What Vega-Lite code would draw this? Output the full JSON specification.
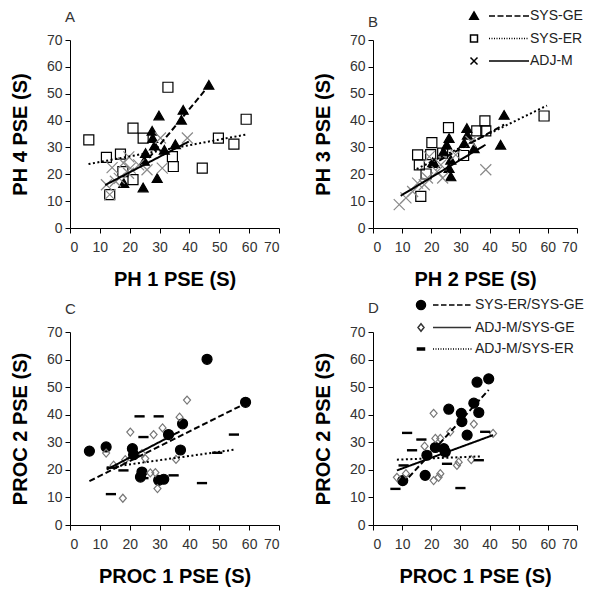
{
"$schema":"https://vega.github.io/schema/vega-lite/v6.json",
"padding":{"left":10,"top":9,"right":5,"bottom":3},
"config":{"view":{"stroke":null},"font":"Liberation Sans",
"axis":{"grid":false,"domainColor":"black","tickColor":"black","tickSize":5,"labelFont":"Liberation Sans","labelFontSize":14,"labelColor":"#333","labelPadding":7,"titleFont":"Liberation Sans","titleFontSize":20,"titleFontWeight":"bold","titleColor":"black"},
"axisX":{"titlePadding":15,"labelPadding":7},"axisY":{"titlePadding":16,"labelPadding":3},
"legend":{"title":null,"symbolSize":100,"symbolStrokeWidth":1.5,"labelFont":"Liberation Sans","labelFontSize":14,"labelColor":"#222"},
"title":{"anchor":"start","frame":"group","font":"Liberation Sans","fontSize":15,"fontWeight":"normal","color":"#333","dx":-5,"offset":8}},
"datasets":{
"pts":[
{"p":"A","g":"SYS-GE","x":46.5,"y":53.3},{"p":"A","g":"SYS-GE","x":37.9,"y":44},{"p":"A","g":"SYS-GE","x":37.3,"y":40.3},{"p":"A","g":"SYS-GE","x":29.8,"y":41.9},{"p":"A","g":"SYS-GE","x":27.5,"y":36.2},{"p":"A","g":"SYS-GE","x":27.7,"y":33.5},{"p":"A","g":"SYS-GE","x":28.3,"y":30.7},{"p":"A","g":"SYS-GE","x":31.6,"y":29.1},{"p":"A","g":"SYS-GE","x":35.3,"y":31.2},{"p":"A","g":"SYS-GE","x":25.3,"y":27.9},{"p":"A","g":"SYS-GE","x":24.9,"y":25},{"p":"A","g":"SYS-GE","x":18,"y":16.7},{"p":"A","g":"SYS-GE","x":24.5,"y":15.1},{"p":"A","g":"SYS-GE","x":29.2,"y":18.6},
{"p":"A","g":"SYS-ER","x":6.3,"y":32.8},{"p":"A","g":"SYS-ER","x":12.2,"y":26.3},{"p":"A","g":"SYS-ER","x":16.9,"y":27.5},{"p":"A","g":"SYS-ER","x":21.1,"y":37.2},{"p":"A","g":"SYS-ER","x":24.5,"y":33.5},{"p":"A","g":"SYS-ER","x":32.8,"y":52.4},{"p":"A","g":"SYS-ER","x":34.3,"y":26.6},{"p":"A","g":"SYS-ER","x":34.6,"y":22.9},{"p":"A","g":"SYS-ER","x":44.3,"y":22.3},{"p":"A","g":"SYS-ER","x":21.1,"y":18},{"p":"A","g":"SYS-ER","x":17.7,"y":21},{"p":"A","g":"SYS-ER","x":13.3,"y":12.4},{"p":"A","g":"SYS-ER","x":49.7,"y":33.5},{"p":"A","g":"SYS-ER","x":54.9,"y":31.2},{"p":"A","g":"SYS-ER","x":59,"y":40.5},
{"p":"A","g":"ADJ-M","x":12.2,"y":16.1},{"p":"A","g":"ADJ-M","x":13.3,"y":12.4},{"p":"A","g":"ADJ-M","x":14.1,"y":22.5},{"p":"A","g":"ADJ-M","x":15.2,"y":17.4},{"p":"A","g":"ADJ-M","x":17.9,"y":24.2},{"p":"A","g":"ADJ-M","x":19.6,"y":20.4},{"p":"A","g":"ADJ-M","x":19.7,"y":26.5},{"p":"A","g":"ADJ-M","x":20.2,"y":22.3},{"p":"A","g":"ADJ-M","x":23,"y":23.5},{"p":"A","g":"ADJ-M","x":25.8,"y":21.7},{"p":"A","g":"ADJ-M","x":30.9,"y":22.3},{"p":"A","g":"ADJ-M","x":30.3,"y":33.5},{"p":"A","g":"ADJ-M","x":39.3,"y":33.5},{"p":"A","g":"ADJ-M","x":16.5,"y":18.5},
{"p":"B","g":"SYS-GE","x":45,"y":42.1},{"p":"B","g":"SYS-GE","x":43.8,"y":31},{"p":"B","g":"SYS-GE","x":32.2,"y":37.2},{"p":"B","g":"SYS-GE","x":32.4,"y":34.7},{"p":"B","g":"SYS-GE","x":31.3,"y":31.6},{"p":"B","g":"SYS-GE","x":26.1,"y":33.5},{"p":"B","g":"SYS-GE","x":25.3,"y":31},{"p":"B","g":"SYS-GE","x":24.2,"y":28.5},{"p":"B","g":"SYS-GE","x":21,"y":24.2},{"p":"B","g":"SYS-GE","x":26.7,"y":25.4},{"p":"B","g":"SYS-GE","x":26.1,"y":22.3},{"p":"B","g":"SYS-GE","x":26.7,"y":19.2},{"p":"B","g":"SYS-GE","x":34.7,"y":29.7},{"p":"B","g":"SYS-GE","x":20.5,"y":24.5},
{"p":"B","g":"SYS-ER","x":15.3,"y":27.2},{"p":"B","g":"SYS-ER","x":15.9,"y":23.5},{"p":"B","g":"SYS-ER","x":16.4,"y":11.8},{"p":"B","g":"SYS-ER","x":20.2,"y":31.8},{"p":"B","g":"SYS-ER","x":25.9,"y":37.4},{"p":"B","g":"SYS-ER","x":23.9,"y":27.9},{"p":"B","g":"SYS-ER","x":18.2,"y":20.1},{"p":"B","g":"SYS-ER","x":35.6,"y":36.2},{"p":"B","g":"SYS-ER","x":38.4,"y":39.9},{"p":"B","g":"SYS-ER","x":38.7,"y":36.2},{"p":"B","g":"SYS-ER","x":58.7,"y":41.7},{"p":"B","g":"SYS-ER","x":31.1,"y":27},{"p":"B","g":"SYS-ER","x":19.8,"y":27.3},
{"p":"B","g":"ADJ-M","x":9,"y":8.7},{"p":"B","g":"ADJ-M","x":11.3,"y":11.2},{"p":"B","g":"ADJ-M","x":13.6,"y":13.6},{"p":"B","g":"ADJ-M","x":15.3,"y":16.7},{"p":"B","g":"ADJ-M","x":17.6,"y":16.1},{"p":"B","g":"ADJ-M","x":18.7,"y":18.6},{"p":"B","g":"ADJ-M","x":23.9,"y":18.6},{"p":"B","g":"ADJ-M","x":23.3,"y":23.5},{"p":"B","g":"ADJ-M","x":19.3,"y":26.6},{"p":"B","g":"ADJ-M","x":38.7,"y":21.7},{"p":"B","g":"ADJ-M","x":33.6,"y":32.2},{"p":"B","g":"ADJ-M","x":28.4,"y":27.2},{"p":"B","g":"ADJ-M","x":22,"y":21},
{"p":"C","g":"SYS-ER/SYS-GE","x":6.5,"y":26.8},{"p":"C","g":"SYS-ER/SYS-GE","x":12.1,"y":28.3},{"p":"C","g":"SYS-ER/SYS-GE","x":20.9,"y":27.7},{"p":"C","g":"SYS-ER/SYS-GE","x":21.3,"y":25.5},{"p":"C","g":"SYS-ER/SYS-GE","x":24.1,"y":19.2},{"p":"C","g":"SYS-ER/SYS-GE","x":23.6,"y":17.4},{"p":"C","g":"SYS-ER/SYS-GE","x":29.7,"y":16.2},{"p":"C","g":"SYS-ER/SYS-GE","x":31.4,"y":16.6},{"p":"C","g":"SYS-ER/SYS-GE","x":33,"y":32.8},{"p":"C","g":"SYS-ER/SYS-GE","x":37.7,"y":36.7},{"p":"C","g":"SYS-ER/SYS-GE","x":37,"y":27.2},{"p":"C","g":"SYS-ER/SYS-GE","x":45.9,"y":60.1},{"p":"C","g":"SYS-ER/SYS-GE","x":58.8,"y":44.5},
{"p":"C","g":"ADJ-M/SYS-GE","x":12.1,"y":26.1},{"p":"C","g":"ADJ-M/SYS-GE","x":14.6,"y":21.7},{"p":"C","g":"ADJ-M/SYS-GE","x":17.7,"y":9.7},{"p":"C","g":"ADJ-M/SYS-GE","x":18.5,"y":23.7},{"p":"C","g":"ADJ-M/SYS-GE","x":20.2,"y":33.7},{"p":"C","g":"ADJ-M/SYS-GE","x":24.1,"y":25.9},{"p":"C","g":"ADJ-M/SYS-GE","x":25.2,"y":24.1},{"p":"C","g":"ADJ-M/SYS-GE","x":26.9,"y":18.9},{"p":"C","g":"ADJ-M/SYS-GE","x":28,"y":32.8},{"p":"C","g":"ADJ-M/SYS-GE","x":28.6,"y":19},{"p":"C","g":"ADJ-M/SYS-GE","x":29.3,"y":13.2},{"p":"C","g":"ADJ-M/SYS-GE","x":31,"y":35.2},{"p":"C","g":"ADJ-M/SYS-GE","x":35.5,"y":23.8},{"p":"C","g":"ADJ-M/SYS-GE","x":36.7,"y":39.1},{"p":"C","g":"ADJ-M/SYS-GE","x":39.2,"y":45.3},
{"p":"C","g":"ADJ-M/SYS-ER","x":13.7,"y":11.2},{"p":"C","g":"ADJ-M/SYS-ER","x":14,"y":20.8},{"p":"C","g":"ADJ-M/SYS-ER","x":17.9,"y":19.8},{"p":"C","g":"ADJ-M/SYS-ER","x":23.3,"y":39.4},{"p":"C","g":"ADJ-M/SYS-ER","x":29.7,"y":39.4},{"p":"C","g":"ADJ-M/SYS-ER","x":24.6,"y":31.9},{"p":"C","g":"ADJ-M/SYS-ER","x":34.7,"y":18},{"p":"C","g":"ADJ-M/SYS-ER","x":44.2,"y":15.2},{"p":"C","g":"ADJ-M/SYS-ER","x":49.3,"y":26.2},{"p":"C","g":"ADJ-M/SYS-ER","x":54.9,"y":32.8},{"p":"C","g":"ADJ-M/SYS-ER","x":24.6,"y":17},
{"p":"D","g":"SYS-ER/SYS-GE","x":39.7,"y":53},{"p":"D","g":"SYS-ER/SYS-GE","x":35.7,"y":51.8},{"p":"D","g":"SYS-ER/SYS-GE","x":34.6,"y":44.2},{"p":"D","g":"SYS-ER/SYS-GE","x":36.3,"y":40.8},{"p":"D","g":"SYS-ER/SYS-GE","x":26,"y":42},{"p":"D","g":"SYS-ER/SYS-GE","x":30.3,"y":40.5},{"p":"D","g":"SYS-ER/SYS-GE","x":30.5,"y":37.5},{"p":"D","g":"SYS-ER/SYS-GE","x":32.3,"y":32.6},{"p":"D","g":"SYS-ER/SYS-GE","x":24.3,"y":27.7},{"p":"D","g":"SYS-ER/SYS-GE","x":24.8,"y":26.5},{"p":"D","g":"SYS-ER/SYS-GE","x":21.4,"y":28.1},{"p":"D","g":"SYS-ER/SYS-GE","x":18.5,"y":25.3},{"p":"D","g":"SYS-ER/SYS-GE","x":17.9,"y":18},{"p":"D","g":"SYS-ER/SYS-GE","x":10.2,"y":16.1},
{"p":"D","g":"ADJ-M/SYS-GE","x":20.8,"y":40.5},{"p":"D","g":"ADJ-M/SYS-GE","x":34.6,"y":36.6},{"p":"D","g":"ADJ-M/SYS-GE","x":41.2,"y":33.2},{"p":"D","g":"ADJ-M/SYS-GE","x":26.5,"y":33.8},{"p":"D","g":"ADJ-M/SYS-GE","x":21.4,"y":31.4},{"p":"D","g":"ADJ-M/SYS-GE","x":23.1,"y":31.4},{"p":"D","g":"ADJ-M/SYS-GE","x":17.7,"y":28.6},{"p":"D","g":"ADJ-M/SYS-GE","x":29.4,"y":22.8},{"p":"D","g":"ADJ-M/SYS-GE","x":28.8,"y":21.6},{"p":"D","g":"ADJ-M/SYS-GE","x":33.7,"y":23.7},{"p":"D","g":"ADJ-M/SYS-GE","x":23.1,"y":18.6},{"p":"D","g":"ADJ-M/SYS-GE","x":22.5,"y":17.3},{"p":"D","g":"ADJ-M/SYS-GE","x":20.8,"y":16.1},{"p":"D","g":"ADJ-M/SYS-GE","x":8.2,"y":17.3},{"p":"D","g":"ADJ-M/SYS-GE","x":11.3,"y":18.6},
{"p":"D","g":"ADJ-M/SYS-ER","x":11.7,"y":33.4},{"p":"D","g":"ADJ-M/SYS-ER","x":16.6,"y":31},{"p":"D","g":"ADJ-M/SYS-ER","x":13.4,"y":27.1},{"p":"D","g":"ADJ-M/SYS-ER","x":10.5,"y":21.6},{"p":"D","g":"ADJ-M/SYS-ER","x":7.7,"y":13.1},{"p":"D","g":"ADJ-M/SYS-ER","x":30,"y":13.4},{"p":"D","g":"ADJ-M/SYS-ER","x":25.4,"y":22.2},{"p":"D","g":"ADJ-M/SYS-ER","x":38.5,"y":33.8},{"p":"D","g":"ADJ-M/SYS-ER","x":36.3,"y":23.5}
],
"fits":[
{"p":"A","g":"SYS-GE","x":24.5,"y":23.5},{"p":"A","g":"SYS-GE","x":46.5,"y":53},
{"p":"A","g":"SYS-ER","x":6.2,"y":23.8},{"p":"A","g":"SYS-ER","x":59,"y":34.8},
{"p":"A","g":"ADJ-M","x":11.8,"y":16},{"p":"A","g":"ADJ-M","x":39.8,"y":32.2},
{"p":"B","g":"SYS-GE","x":20,"y":23.5},{"p":"B","g":"SYS-GE","x":45,"y":38.5},
{"p":"B","g":"SYS-ER","x":15,"y":22},{"p":"B","g":"SYS-ER","x":59.7,"y":45.6},
{"p":"B","g":"ADJ-M","x":9.5,"y":12},{"p":"B","g":"ADJ-M","x":38.6,"y":31},
{"p":"C","g":"SYS-ER/SYS-GE","x":6.5,"y":15.9},{"p":"C","g":"SYS-ER/SYS-GE","x":58.8,"y":44.1},
{"p":"C","g":"ADJ-M/SYS-GE","x":12.3,"y":20.1},{"p":"C","g":"ADJ-M/SYS-GE","x":36.7,"y":33.9},
{"p":"C","g":"ADJ-M/SYS-ER","x":12.3,"y":20.8},{"p":"C","g":"ADJ-M/SYS-ER","x":54.9,"y":27.3},
{"p":"D","g":"SYS-ER/SYS-GE","x":10.2,"y":14.9},{"p":"D","g":"SYS-ER/SYS-GE","x":39.7,"y":49},
{"p":"D","g":"ADJ-M/SYS-GE","x":8.2,"y":19.8},{"p":"D","g":"ADJ-M/SYS-GE","x":41.2,"y":32.6},
{"p":"D","g":"ADJ-M/SYS-ER","x":8.2,"y":23.7},{"p":"D","g":"ADJ-M/SYS-ER","x":37.4,"y":24.9}
]},
"resolve":{"scale":{"shape":"independent","fill":"independent","stroke":"independent","strokeDash":"independent"}},
"spacing":9,
"vconcat":[
{"hconcat":[
{"width":209,"height":188,"title":{"text":"A"},
"encoding":{"x":{"field":"x","type":"quantitative","scale":{"domain":[0,70],"nice":false},"axis":{"values":[0,10,20,30,40,50,60,70],"title":"PH 1 PSE (S)"}},
"y":{"field":"y","type":"quantitative","scale":{"domain":[0,70],"nice":false},"axis":{"values":[0,10,20,30,40,50,60,70],"title":"PH 4 PSE (S)"}}},
"layer":[
{"data":{"name":"pts"},"transform":[{"filter":"datum.p === 'A'"}],"mark":{"type":"point","size":100,"strokeWidth":1.2,"opacity":1},
"encoding":{"shape":{"field":"g","type":"nominal","scale":{"domain":["SYS-GE","SYS-ER","ADJ-M"],"range":["triangle-up","square","M-1.1,-1.1L1.1,1.1M-1.1,1.1L1.1,-1.1"]},"legend":null},
"fill":{"field":"g","type":"nominal","scale":{"domain":["SYS-GE","SYS-ER","ADJ-M"],"range":["black","transparent","transparent"]},"legend":null},
"stroke":{"field":"g","type":"nominal","scale":{"domain":["SYS-GE","SYS-ER","ADJ-M"],"range":["black","black","#8a8a8a"]},"legend":null}}},
{"data":{"name":"fits"},"transform":[{"filter":"datum.p === 'A'"}],"mark":{"type":"line","strokeWidth":2,"color":"black"},
"encoding":{"strokeDash":{"field":"g","type":"nominal","scale":{"domain":["SYS-GE","SYS-ER","ADJ-M"],"range":[[6,3],[2,2.5],[1,0]]},"legend":null}}}
]},
{"width":204,"height":188,"title":{"text":"B","dy":29},
"encoding":{"x":{"field":"x","type":"quantitative","scale":{"domain":[0,70],"nice":false},"axis":{"values":[0,10,20,30,40,50,60,70],"title":"PH 2 PSE (S)"}},
"y":{"field":"y","type":"quantitative","scale":{"domain":[0,70],"nice":false},"axis":{"values":[0,10,20,30,40,50,60,70],"title":"PH 3 PSE (S)"}}},
"resolve":{"scale":{"shape":"independent","fill":"independent","stroke":"independent"}},
"layer":[
{"data":{"name":"pts"},"transform":[{"filter":"datum.p === 'B'"}],"mark":{"type":"point","size":100,"strokeWidth":1.2,"opacity":1},
"encoding":{"shape":{"field":"g","type":"nominal","scale":{"domain":["SYS-GE","SYS-ER","ADJ-M"],"range":["triangle-up","square","M-1.1,-1.1L1.1,1.1M-1.1,1.1L1.1,-1.1"]},"legend":null},
"fill":{"field":"g","type":"nominal","scale":{"domain":["SYS-GE","SYS-ER","ADJ-M"],"range":["black","transparent","transparent"]},"legend":null},
"stroke":{"field":"g","type":"nominal","scale":{"domain":["SYS-GE","SYS-ER","ADJ-M"],"range":["black","black","#8a8a8a"]},"legend":null}}},
{"data":{"name":"pts"},"transform":[{"filter":"false"}],"mark":{"type":"point","size":100,"strokeWidth":1.5,"opacity":1},
"encoding":{"shape":{"field":"g","type":"nominal","scale":{"domain":["SYS-GE","SYS-ER","ADJ-M"],"range":["M0,-0.8L0.85,0.65L-0.85,0.65ZM3,0L4.2,0M4.7,0L5.9,0M6.4,0L7.6,0M8.1,0L9.3,0M9.8,0L11,0","M-0.7,-0.7L0.7,-0.7L0.7,0.7L-0.7,0.7ZM3,0L3.2,0M3.5,0L3.7,0M4,0L4.2,0M4.5,0L4.7,0M5,0L5.2,0M5.5,0L5.7,0M6,0L6.2,0M6.5,0L6.7,0M7,0L7.2,0M7.5,0L7.7,0M8,0L8.2,0M8.5,0L8.7,0M9,0L9.2,0M9.5,0L9.7,0M10,0L10.2,0M10.5,0L10.7,0","M-0.7,-0.7L0.7,0.7M-0.7,0.7L0.7,-0.7M3,0L11,0"]},
"legend":{"orient":"none","legendX":94,"legendY":-31,"labelOffset":49,"rowPadding":8.5}},
"fill":{"field":"g","type":"nominal","scale":{"domain":["SYS-GE","SYS-ER","ADJ-M"],"range":["black","transparent","transparent"]},"legend":{"orient":"none","legendX":94,"legendY":-31,"labelOffset":49,"rowPadding":8.5}},
"stroke":{"field":"g","type":"nominal","scale":{"domain":["SYS-GE","SYS-ER","ADJ-M"],"range":["black","black","black"]},"legend":{"orient":"none","legendX":94,"legendY":-31,"labelOffset":49,"rowPadding":8.5}}}},
{"data":{"name":"fits"},"transform":[{"filter":"datum.p === 'B'"}],"mark":{"type":"line","strokeWidth":2,"color":"black"},
"encoding":{"strokeDash":{"field":"g","type":"nominal","scale":{"domain":["SYS-GE","SYS-ER","ADJ-M"],"range":[[6,3],[2,2.5],[1,0]]},"legend":null}}}
]}
],"spacing":33,"resolve":{"scale":{"shape":"independent","fill":"independent","stroke":"independent","strokeDash":"independent"}}},
{"hconcat":[
{"width":209,"height":193,"title":{"text":"C"},
"encoding":{"x":{"field":"x","type":"quantitative","scale":{"domain":[0,70],"nice":false},"axis":{"values":[0,10,20,30,40,50,60,70],"title":"PROC 1 PSE (S)"}},
"y":{"field":"y","type":"quantitative","scale":{"domain":[0,70],"nice":false},"axis":{"values":[0,10,20,30,40,50,60,70],"title":"PROC 2 PSE (S)"}}},
"layer":[
{"data":{"name":"pts"},"transform":[{"filter":"datum.p === 'C'"}],"mark":{"type":"point","size":100,"strokeWidth":1.2,"opacity":1},
"encoding":{"shape":{"field":"g","type":"nominal","scale":{"domain":["SYS-ER/SYS-GE","ADJ-M/SYS-GE","ADJ-M/SYS-ER"],"range":["circle","M0,-0.8L0.7,0L0,0.8L-0.7,0Z","M-0.9,-0.12L0.9,-0.12L0.9,0.12L-0.9,0.12Z"]},"legend":null},
"fill":{"field":"g","type":"nominal","scale":{"domain":["SYS-ER/SYS-GE","ADJ-M/SYS-GE","ADJ-M/SYS-ER"],"range":["black","transparent","black"]},"legend":null},
"stroke":{"field":"g","type":"nominal","scale":{"domain":["SYS-ER/SYS-GE","ADJ-M/SYS-GE","ADJ-M/SYS-ER"],"range":["black","#777","black"]},"legend":null}}},
{"data":{"name":"fits"},"transform":[{"filter":"datum.p === 'C'"}],"mark":{"type":"line","strokeWidth":2,"color":"black"},
"encoding":{"strokeDash":{"field":"g","type":"nominal","scale":{"domain":["SYS-ER/SYS-GE","ADJ-M/SYS-GE","ADJ-M/SYS-ER"],"range":[[6,3],[1,0],[2,2.5]]},"legend":null}}}
]},
{"width":204,"height":193,"title":{"text":"D","dy":26},
"encoding":{"x":{"field":"x","type":"quantitative","scale":{"domain":[0,70],"nice":false},"axis":{"values":[0,10,20,30,40,50,60,70],"title":"PROC 1 PSE (S)"}},
"y":{"field":"y","type":"quantitative","scale":{"domain":[0,70],"nice":false},"axis":{"values":[0,10,20,30,40,50,60,70],"title":"PROC 2 PSE (S)"}}},
"resolve":{"scale":{"shape":"independent","fill":"independent","stroke":"independent"}},
"layer":[
{"data":{"name":"pts"},"transform":[{"filter":"datum.p === 'D'"}],"mark":{"type":"point","size":100,"strokeWidth":1.2,"opacity":1},
"encoding":{"shape":{"field":"g","type":"nominal","scale":{"domain":["SYS-ER/SYS-GE","ADJ-M/SYS-GE","ADJ-M/SYS-ER"],"range":["circle","M0,-0.8L0.7,0L0,0.8L-0.7,0Z","M-0.9,-0.12L0.9,-0.12L0.9,0.12L-0.9,0.12Z"]},"legend":null},
"fill":{"field":"g","type":"nominal","scale":{"domain":["SYS-ER/SYS-GE","ADJ-M/SYS-GE","ADJ-M/SYS-ER"],"range":["black","transparent","black"]},"legend":null},
"stroke":{"field":"g","type":"nominal","scale":{"domain":["SYS-ER/SYS-GE","ADJ-M/SYS-GE","ADJ-M/SYS-ER"],"range":["black","#777","black"]},"legend":null}}},
{"data":{"name":"pts"},"transform":[{"filter":"false"}],"mark":{"type":"point","size":100,"strokeWidth":1.5,"opacity":1},
"encoding":{"shape":{"field":"g","type":"nominal","scale":{"domain":["SYS-ER/SYS-GE","ADJ-M/SYS-GE","ADJ-M/SYS-ER"],"range":["M-0.9,0A0.9,0.9,0,1,1,0.9,0A0.9,0.9,0,1,1,-0.9,0ZM2.4,0L3.5,0M4,0L5.1,0M5.6,0L6.7,0M7.2,0L8.3,0M8.8,0L9.9,0","M0,-0.75L0.6,0L0,0.75L-0.6,0ZM2.4,0L10,0","M-0.7,-0.2L0.7,-0.2L0.7,0.2L-0.7,0.2ZM2.4,0L2.6,0M2.9,0L3.1,0M3.4,0L3.6,0M3.9,0L4.1,0M4.4,0L4.6,0M4.9,0L5.1,0M5.4,0L5.6,0M5.9,0L6.1,0M6.4,0L6.6,0M6.9,0L7.1,0M7.4,0L7.6,0M7.9,0L8.1,0M8.4,0L8.6,0M8.9,0L9.1,0M9.4,0L9.6,0M9.9,0L10.1,0"]},
"legend":{"orient":"none","legendX":41,"legendY":-34,"labelOffset":47,"rowPadding":7.5}},
"fill":{"field":"g","type":"nominal","scale":{"domain":["SYS-ER/SYS-GE","ADJ-M/SYS-GE","ADJ-M/SYS-ER"],"range":["black","transparent","black"]},"legend":{"orient":"none","legendX":41,"legendY":-34,"labelOffset":47,"rowPadding":7.5}},
"stroke":{"field":"g","type":"nominal","scale":{"domain":["SYS-ER/SYS-GE","ADJ-M/SYS-GE","ADJ-M/SYS-ER"],"range":["black","#333","black"]},"legend":{"orient":"none","legendX":41,"legendY":-34,"labelOffset":47,"rowPadding":7.5}}}},
{"data":{"name":"fits"},"transform":[{"filter":"datum.p === 'D'"}],"mark":{"type":"line","strokeWidth":2,"color":"black"},
"encoding":{"strokeDash":{"field":"g","type":"nominal","scale":{"domain":["SYS-ER/SYS-GE","ADJ-M/SYS-GE","ADJ-M/SYS-ER"],"range":[[6,3],[1,0],[2,2.5]]},"legend":null}}}
]}
],"spacing":33,"resolve":{"scale":{"shape":"independent","fill":"independent","stroke":"independent","strokeDash":"independent"}}}
]}
